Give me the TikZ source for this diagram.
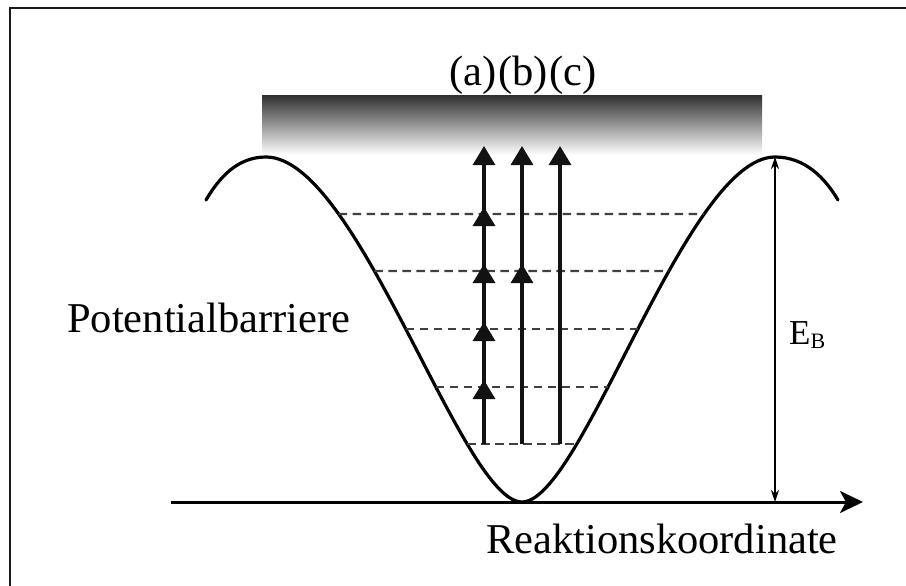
\documentclass[tikz,border=0pt]{standalone}
\usepackage{fontspec}
\setmainfont{Liberation Serif}
\usetikzlibrary{arrows.meta,intersections}
\begin{document}
\begin{tikzpicture}[x=1pt,y=-1pt,
  curve/.style={line width=3.2pt, line join=round, line cap=round},
  levelline/.style={dash pattern=on 8.5pt off 5.5pt, line width=2.1pt, draw=black!75},
  up/.style={line width=3.2pt, draw=black!93, -{Triangle[length=19pt,width=22pt]}},
  lbl/.style={inner sep=0pt, font=\fontsize{42.5}{50}\selectfont},
  frameline/.style={line width=2.2pt, draw=black!90}]
\useasboundingbox (0,0) rectangle (906,586);
\fill[white] (0,0) rectangle (906,586);
% frame (left and top only)
\coordinate (fbl) at (10,586);
\coordinate (ftl) at (10,8);
\coordinate (ftr) at (906,8);
\draw[frameline] (fbl) -- (ftl) -- (ftr);
% gradient bar
\shade[top color=black!80, bottom color=white] (262,96) rectangle (762,155);
% potential curve
\draw[curve, name path=pot] (206,200) .. controls (219,178) and (237,157) .. (266,157)
  .. controls (358,157) and (462,502) .. (522,502)
  .. controls (582,502) and (686,157) .. (775,157)
  .. controls (805,157) and (825,178) .. (838,200);
% dashed levels
\foreach \L in {214,271,329,387,444}{
  \path[name path=h\L] (150,\L) -- (900,\L);
  \path[name intersections={of=pot and h\L, sort by=h\L, name=i\L}];
  \draw[levelline] (i\L-1) -- (i\L-2);
}
% axis
\coordinate (ax0) at (171,502);
\coordinate (ax1) at (863,502);
\draw[line width=3pt, -{Stealth[length=23pt,width=22pt,inset=6pt]}] (ax0) -- (ax1);
% E_B arrow
\coordinate (eb0) at (775,157);
\coordinate (eb1) at (775,502);
\draw[line width=1.5pt, {Stealth[length=12pt,width=8pt]}-{Stealth[length=12pt,width=8pt]}] (eb0) -- (eb1);
% arrow (a)
\coordinate (a0) at (484,444);
\coordinate (a1) at (484,387);
\coordinate (a2) at (484,329);
\coordinate (a3) at (484,271);
\coordinate (a4) at (484,214);
\draw[up] (a0) -- ([yshift=7pt]a1);
\draw[up] (a1) -- ([yshift=7pt]a2);
\draw[up] (a2) -- ([yshift=7pt]a3);
\draw[up] (a3) -- ([yshift=7pt]a4);
\draw[up] (a4) -- (484,146);
% arrow (b)
\coordinate (b0) at (522,444);
\coordinate (b1) at (522,271);
\draw[up] (b0) -- ([yshift=7pt]b1);
\draw[up] (b1) -- (522,146);
% arrow (c)
\coordinate (c0) at (560,444);
\draw[up] (c0) -- (560,146);
% labels
\node[lbl, anchor=base] (abc) at (523,85) {(a)\kern2pt(b)\kern2pt(c)};
\node[lbl, anchor=base west] (pb) at (67,332) {Potentialbarriere};
\node[lbl, anchor=base east] (rk) at (838,553) {Reaktionskoordinate};
\node[inner sep=0pt, anchor=base west] (eb) at (789,344)
  {\fontsize{35}{40}\selectfont E\raisebox{-4pt}{\fontsize{22}{24}\selectfont B}};
\end{tikzpicture}
\end{document}
